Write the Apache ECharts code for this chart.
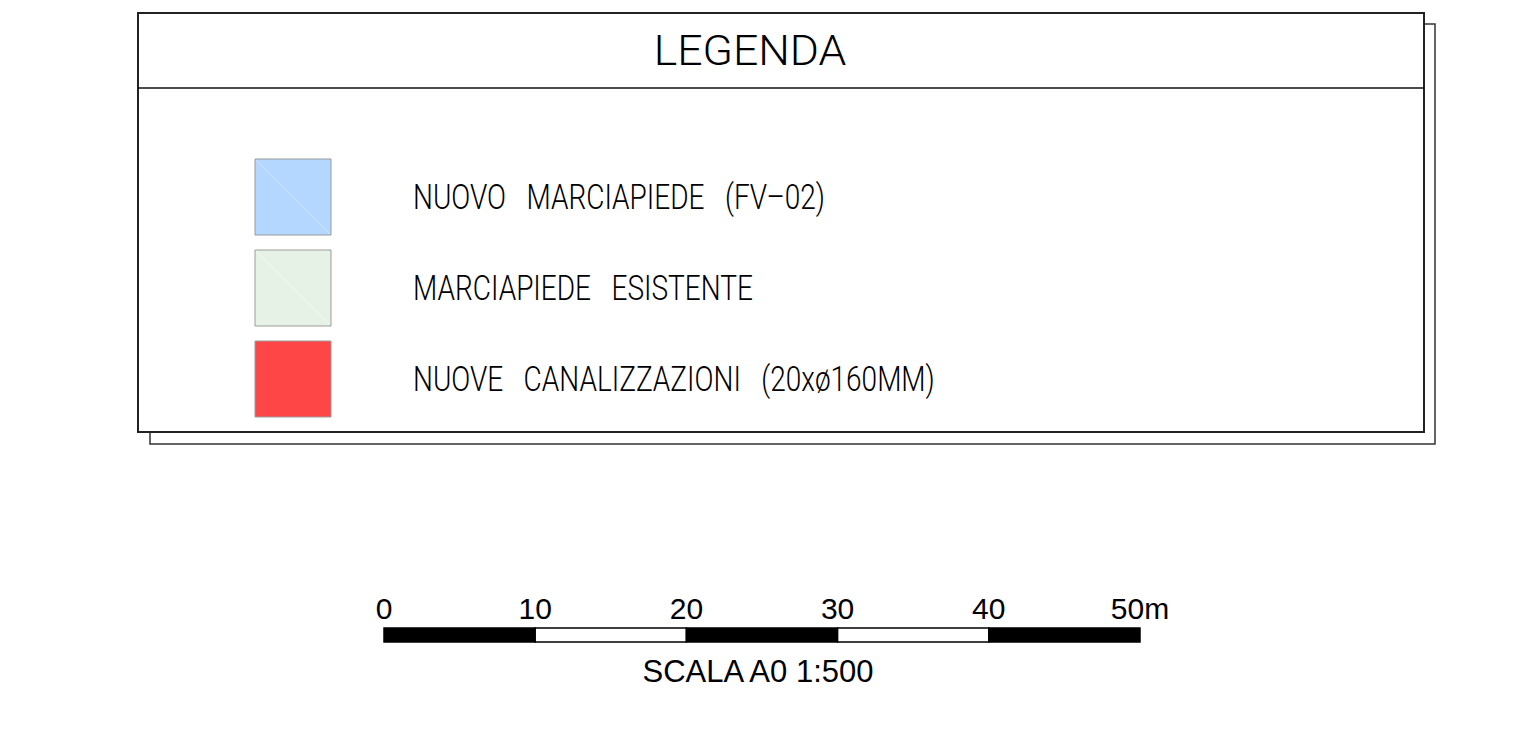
<!DOCTYPE html>
<html>
<head>
<meta charset="utf-8">
<script src="https://cdn.jsdelivr.net/npm/echarts@6/dist/echarts.min.js"></script>
<style>html,body{margin:0;padding:0;background:#fff}#c{width:1530px;height:731px}</style>
</head>
<body>
<div id="c"></div>
<script>
// ---- data ----
const legendTitle = 'LEGENDA';
const legendLabels = ['NUOVO   MARCIAPIEDE   (FV\u201302)', 'MARCIAPIEDE   ESISTENTE', 'NUOVE   CANALIZZAZIONI   (20x\u00f8160MM)'];
const scaleTicks = [0, 10, 20, 30, 40, 50];
const scaleUnit = 'm';
const scaleCaption = 'SCALA A0 1:500';

// ---- styles ----
const swatchColors = ['#b3d7ff', '#e6f2e6', '#ff4646'];
const swatchDiagonal = [true, true, false];
const cadFont = 'Roboto, "DejaVu Sans", sans-serif';
const arial = '"Liberation Sans", Arial, sans-serif';

const segments = scaleTicks.slice(0, -1).map((v, i) => [v, scaleTicks[i + 1], i]);
const scaleMax = scaleTicks[scaleTicks.length - 1];

const chart = echarts.init(document.getElementById('c'), null, { renderer: 'svg' });
chart.setOption({
  animation: false,
  backgroundColor: '#ffffff',
  graphic: [
    { type: 'polyline', shape: { points: [[1424, 24], [1435, 24], [1435, 444], [150, 444], [150, 432]] }, style: { stroke: '#333', lineWidth: 1.5, fill: null } },
    { type: 'rect', shape: { x: 138, y: 13, width: 1286, height: 419 }, style: { stroke: '#222', lineWidth: 2, fill: null } },
    { type: 'line', shape: { x1: 138, y1: 88, x2: 1424, y2: 88 }, style: { stroke: '#111', lineWidth: 1.5 } },
    { type: 'text', x: 750, y: 51, scaleX: 1.06, style: { text: legendTitle, font: '300 42px ' + cadFont, fill: '#000', textAlign: 'center', textVerticalAlign: 'middle' } },
    { type: 'text', x: 758, y: 671, style: { text: scaleCaption, font: '31px ' + arial, fill: '#000', textAlign: 'center', textVerticalAlign: 'middle' } }
  ],
  grid: [
    { left: 384, top: 628, width: 756, height: 14 },
    { left: 255, top: 151.5, width: 76, height: 273 }
  ],
  xAxis: [
    { gridIndex: 0, type: 'value', min: 0, max: scaleMax, interval: 10, position: 'top',
      axisLine: { show: false }, axisTick: { show: false }, splitLine: { show: false },
      axisLabel: { show: true, margin: 5, fontSize: 30, fontFamily: arial, color: '#000',
        formatter: v => v === scaleMax ? v + scaleUnit : String(v) } },
    { gridIndex: 1, type: 'value', min: 0, max: 1, show: false }
  ],
  yAxis: [
    { gridIndex: 0, type: 'value', min: 0, max: 1, show: false },
    { gridIndex: 1, type: 'category', data: legendLabels, inverse: true, show: false }
  ],
  series: [
    {
      type: 'custom', xAxisIndex: 0, yAxisIndex: 0, data: segments,
      renderItem: (params, api) => {
        const p0 = api.coord([api.value(0), 0]);
        const p1 = api.coord([api.value(1), 1]);
        const dark = api.value(2) % 2 === 0;
        return { type: 'rect', shape: { x: p0[0], y: p1[1], width: p1[0] - p0[0], height: p0[1] - p1[1] },
          style: { fill: dark ? '#000' : '#fff', stroke: '#000', lineWidth: 1.5 } };
      }
    },
    {
      type: 'custom', xAxisIndex: 1, yAxisIndex: 1,
      data: legendLabels.map((l, i) => [0, i]),
      renderItem: (params, api) => {
        const i = params.dataIndex;
        const c = api.coord([0, api.value(1)]);
        const w = api.size([1, 0])[0];
        const y = c[1] - w / 2;
        const children = [
          { type: 'rect', shape: { x: c[0], y: y, width: w, height: w }, style: { fill: swatchColors[i], stroke: '#9a9a9a', lineWidth: 1 } }
        ];
        if (swatchDiagonal[i]) {
          children.push({ type: 'line', shape: { x1: c[0] + 1, y1: y + 1, x2: c[0] + w - 1, y2: y + w - 1 }, style: { stroke: 'rgba(255,255,255,0.35)', lineWidth: 1 } });
        }
        children.push({ type: 'text', x: c[0] + 158, y: c[1], scaleX: 0.80, style: { text: legendLabels[i], font: '300 35px ' + cadFont, fill: '#000', textAlign: 'left', textVerticalAlign: 'middle' } });
        return { type: 'group', children: children };
      }
    }
  ]
});
</script>
</body>
</html>
